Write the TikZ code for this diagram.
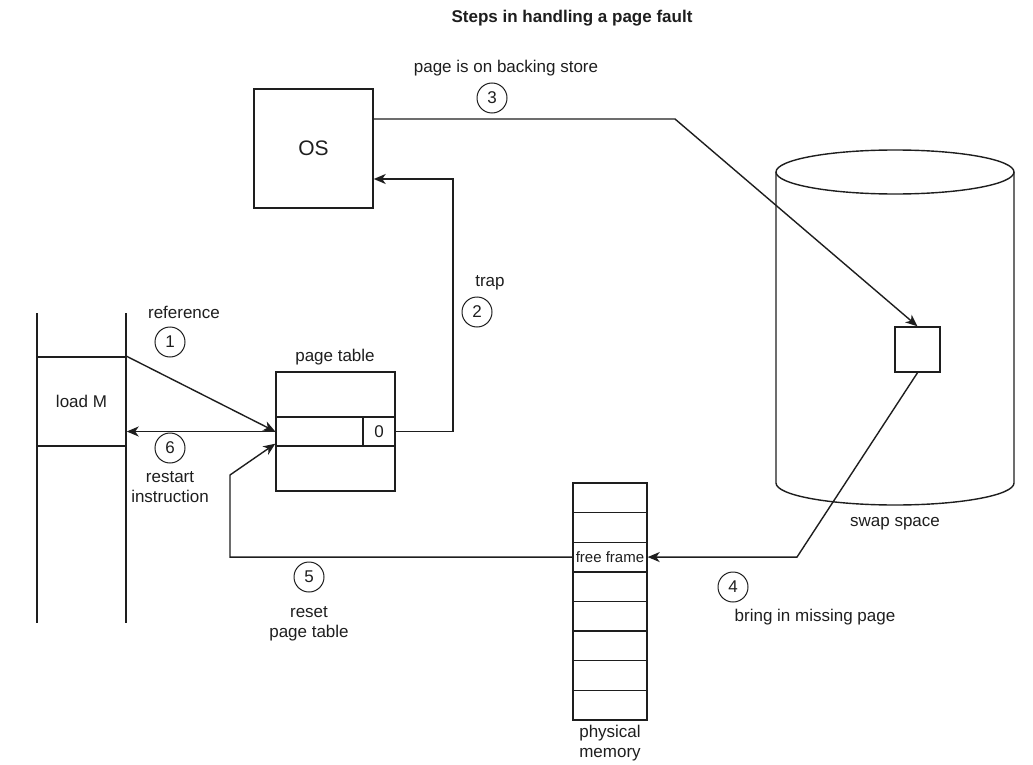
\documentclass[tikz,border=0pt]{standalone}
\usepackage{fontspec}
\setmainfont{Liberation Sans}
\usetikzlibrary{arrows.meta,calc}
\definecolor{ink}{RGB}{30,30,30}
\begin{document}
\begin{tikzpicture}[x=1pt,y=-1pt,
  every node/.style={font=\fontsize{17}{20}\selectfont, text=ink},
  box/.style={draw=ink, line width=1.4pt, inner sep=0pt},
  num/.style={circle, draw=ink, line width=1pt, minimum size=30pt, inner sep=0pt},
  conn/.style={draw=ink, line width=1.4pt},
  arr/.style={conn, -{Stealth[length=12pt,width=10pt,inset=3.5pt]}},
  lbl/.style={align=center, inner sep=0pt}
]
\useasboundingbox (0,0) rectangle (1033,765);

% title
\node[lbl, font=\bfseries\fontsize{17}{20}\selectfont] (title) at (572,18) {Steps in handling a page fault};

% OS
\node[box, minimum width=119pt, minimum height=119pt, font=\fontsize{21}{24}\selectfont] (OS) at (313.5,148.5) {OS};

% program column
\draw[conn] (37,313) -- (37,623);
\draw[conn] (126,313) -- (126,623);
\node[box, minimum width=89pt, minimum height=89pt] (loadm) at (81.5,401.5) {load M};

% page table
\node[box, minimum width=119pt, minimum height=119pt] (ptab) at (335.5,431.5) {};
\node[box, minimum width=119pt, minimum height=29pt] (ptrow) at (335.5,431.5) {};
\node[box, minimum width=32pt, minimum height=29pt] (ptbit) at (379,431.5) {0};
\node[lbl] (ptlabel) at (335,357) {page table};

% swap space cylinder
\draw[conn] (895,172) ellipse [x radius=119, y radius=22];
\draw[conn] (776,172) -- (776,483) arc[start angle=180, end angle=0, x radius=119, y radius=22] -- (1014,172);
\node[box, fill=white, minimum width=45pt, minimum height=45pt] (swapbox) at (917.5,349.5) {};
\node[lbl] (swaplabel) at (895,524) {swap space};

% physical memory
\foreach \i in {1,...,8}
  \node[box, minimum width=74pt, minimum height=29.625pt] (mem\i) at (610,{483+29.625*(\i-0.5)}) {};
\node[lbl, font=\fontsize{15}{18}\selectfont] (freeframe) at (mem3) {free frame};
\node[lbl] (memlabel) at (610,743) {physical\\memory};

% connectors
\draw[arr] (loadm.north east) -- (ptrow.west);
\draw[arr] (ptrow.west) -- (loadm.east |- ptrow.west);
\coordinate (trapc) at (453,179);
\draw[arr] (ptbit.east) -| (trapc) -- (OS.east |- trapc);
\coordinate (bend3) at (675,119);
\draw[arr] (OS.east |- bend3) -- (bend3) -- (swapbox.north);
\coordinate (bend4) at (797,557.06);
\draw[arr] (swapbox.south) -- (bend4) -- (mem3.east);
\coordinate (bend5) at (230,475);
\draw[arr] (mem3.west) -| (bend5) -- ($(ptrow.south west)+(0,-3)$);

% step numbers and labels
\node[num] (n1) at (170,342) {1};
\node[lbl] (l1) at (184,312) {reference};
\node[num] (n2) at (477,312) {2};
\node[lbl] (l2) at (490,283) {trap};
\node[num] (n3) at (492,98) {3};
\node[lbl] (l3) at (506,68) {page is on backing store};
\node[num] (n4) at (733,587) {4};
\node[lbl] (l4) at (815,617) {bring in missing page};
\node[num] (n5) at (309,577) {5};
\node[lbl] (l5) at (309,624) {reset\\page table};
\node[num] (n6) at (170,448) {6};
\node[lbl] (l6) at (170,487) {restart\\instruction};
\end{tikzpicture}
\end{document}
